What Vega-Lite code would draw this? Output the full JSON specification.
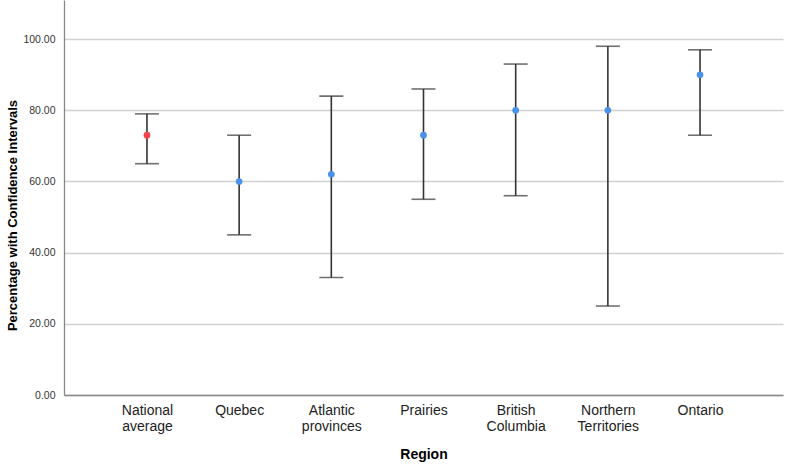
{
  "$schema": "https://vega.github.io/schema/vega-lite/v6.json",
  "autosize": {"type": "none"},
  "padding": {"left": 64, "top": 0, "right": 2, "bottom": 70},
  "width": 719,
  "height": 395,
  "background": "white",
  "config": {
    "view": {"stroke": null},
    "font": "Liberation Sans",
    "axis": {"labelFont": "Liberation Sans", "titleFont": "Liberation Sans"}
  },
  "data": {
    "values": [
      {"region": "National average", "mean": 73, "low": 65, "high": 79, "type": "national"},
      {"region": "Quebec", "mean": 60, "low": 45, "high": 73, "type": "region"},
      {"region": "Atlantic provinces", "mean": 62, "low": 33, "high": 84, "type": "region"},
      {"region": "Prairies", "mean": 73, "low": 55, "high": 86, "type": "region"},
      {"region": "British Columbia", "mean": 80, "low": 56, "high": 93, "type": "region"},
      {"region": "Northern Territories", "mean": 80, "low": 25, "high": 98, "type": "region"},
      {"region": "Ontario", "mean": 90, "low": 73, "high": 97, "type": "region"}
    ]
  },
  "encoding": {
    "x": {
      "field": "region",
      "type": "nominal",
      "sort": null,
      "scale": {"type": "point", "padding": 0.9},
      "axis": {
        "title": "Region",
        "titleFontSize": 14,
        "titleFontWeight": "bold",
        "titleColor": "#000",
        "titlePadding": 14,
        "labelAngle": 0,
        "labelFontSize": 14,
        "labelColor": "#222",
        "labelPadding": 8,
        "labelLineHeight": 16,
        "labelExpr": "split(datum.label, ' ')",
        "ticks": false,
        "grid": false,
        "domainColor": "#888",
        "domainWidth": 1.3
      }
    }
  },
  "layer": [
    {
      "mark": {"type": "rule", "color": "#333", "strokeWidth": 1.6},
      "encoding": {
        "y": {
          "field": "low",
          "type": "quantitative",
          "scale": {"domain": [0, 111], "nice": false},
          "axis": {
            "title": "Percentage with Confidence Intervals",
            "titleFontSize": 13,
            "titleFontWeight": "bold",
            "titleColor": "#000",
            "titleX": -52,
            "titleY": 215,
            "titleAngle": -90,
            "titleAlign": "center",
            "titleBaseline": "middle",
            "values": [0, 20, 40, 60, 80, 100],
            "format": ".2f",
            "labelFontSize": 10.5,
            "labelColor": "#333",
            "labelPadding": 9,
            "ticks": false,
            "gridColor": "#d0d0d0",
            "gridWidth": 1.3,
            "domainColor": "#888",
            "domainWidth": 1.3
          }
        },
        "y2": {"field": "high"}
      }
    },
    {
      "mark": {"type": "tick", "color": "#333", "size": 24, "thickness": 1.6},
      "encoding": {"y": {"field": "low", "type": "quantitative"}}
    },
    {
      "mark": {"type": "tick", "color": "#333", "size": 24, "thickness": 1.6},
      "encoding": {"y": {"field": "high", "type": "quantitative"}}
    },
    {
      "mark": {"type": "point", "filled": true, "opacity": 1, "size": 45},
      "encoding": {
        "y": {"field": "mean", "type": "quantitative"},
        "color": {
          "field": "type",
          "type": "nominal",
          "scale": {"domain": ["national", "region"], "range": ["#f24646", "#4b92ea"]},
          "legend": null
        }
      }
    }
  ]
}
